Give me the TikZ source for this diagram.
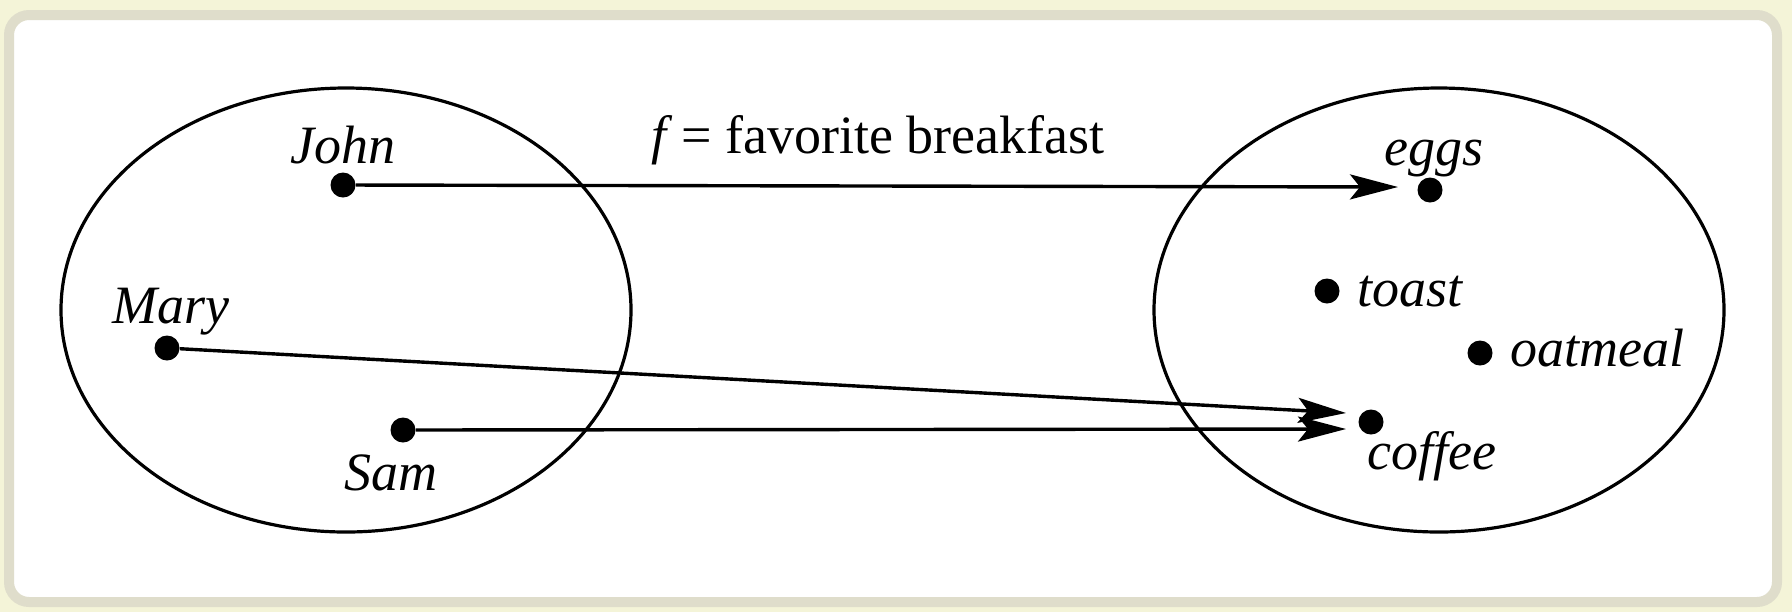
\documentclass[tikz,border=0pt]{standalone}
\usepackage{fontspec}
\newfontfamily\tnr{Liberation Serif}
\usetikzlibrary{arrows.meta}
\definecolor{cream}{HTML}{F4F4D8}
\definecolor{frame}{HTML}{DFDDCB}
\tikzset{
  dot/.style={circle, fill=black, inner sep=0pt, minimum size=12.5pt},
  lab/.style={font=\tnr\fontsize{27}{32}\selectfont\itshape, inner sep=0pt, anchor=base},
  set/.style={draw=black, line width=1.6pt},
  map/.style={line width=1.7pt, -{Stealth[length=24pt, width=12.5pt, inset=5pt]}}
}
\begin{document}
\begin{tikzpicture}[x=0.5pt, y=-0.5pt]
\useasboundingbox (0,0) rectangle (1792,612);
\fill[cream] (0,0) rectangle (1792,612);
\draw[frame, fill=white, line width=5pt, rounded corners=10pt] (9,15) rectangle (1777,602);
% sets
\draw[set] (346,310) ellipse [x radius=285, y radius=222];
\draw[set] (1439,310) ellipse [x radius=285, y radius=222];
% domain points
\node[dot] (john) at (343,185) {};
\node[dot] (mary) at (167,348) {};
\node[dot] (sam) at (403,430) {};
% codomain points
\node[dot] (eggs) at (1430,190) {};
\node[dot] (toast) at (1327,291) {};
\node[dot] (oatmeal) at (1480,353) {};
\node[dot] (coffee) at (1371,422) {};
% labels
\node[lab] (johnl) at (343,163) {John};
\node[lab] (maryl) at (171,323) {Mary};
\node[lab] (saml) at (391,490) {Sam};
\node[lab] (eggsl) at (1434,165) {eggs};
\node[lab, anchor=base west] (toastl) at (1357,306) {toast};
\node[lab, anchor=base west] (oatmeall) at (1510,366) {oatmeal};
\node[lab] (coffeel) at (1432,469) {coffee};
\node[font=\tnr\fontsize{27}{32}\selectfont, inner sep=0pt, anchor=base] (title) at (878,153) {\textit{f}\,= favorite breakfast};
% arrow tips
\coordinate (te) at (1398,187);
\coordinate (tm) at (1346,413);
\coordinate (ts) at (1346,429);
\draw[map] (john) -- (te);
\draw[map] (mary) -- (tm);
\draw[map] (sam) -- (ts);
\end{tikzpicture}
\end{document}
